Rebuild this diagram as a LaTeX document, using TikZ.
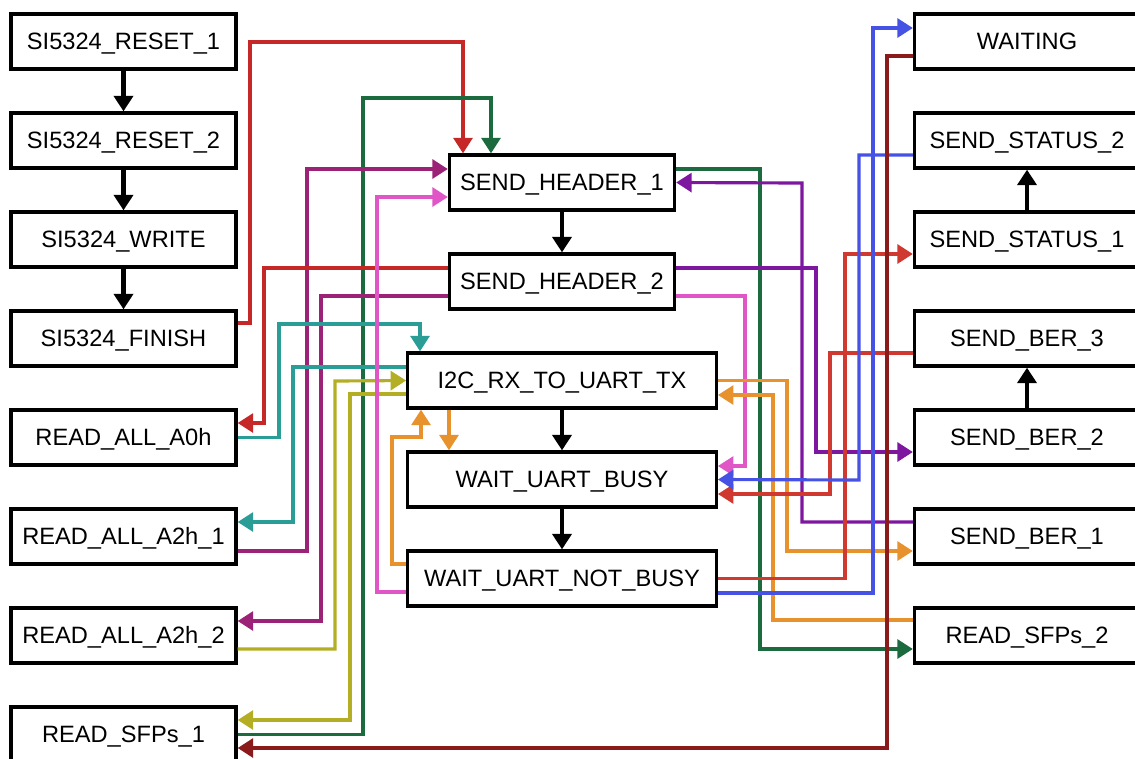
\documentclass[tikz,border=0pt]{standalone}
\usepackage{fontspec}
\setmainfont{Liberation Sans}
\usetikzlibrary{arrows.meta}
\definecolor{firered}{HTML}{C62828}
\definecolor{signalred}{HTML}{D0392F}
\definecolor{deepgreen}{HTML}{1B6B3E}
\definecolor{plum}{HTML}{9C2277}
\definecolor{seateal}{HTML}{2A9D96}
\definecolor{olivine}{HTML}{B3AE23}
\definecolor{orchid}{HTML}{E056C6}
\definecolor{amber}{HTML}{E8922E}
\definecolor{violet}{HTML}{7E17A0}
\definecolor{royal}{HTML}{4652E4}
\definecolor{maroon}{HTML}{8B1A1A}

\begin{document}
\begin{tikzpicture}[
    x=0.2mm, y=-0.2mm,
    font=\fontsize{13.45}{16}\selectfont,
    state/.style={draw, line width=1.9pt, minimum width=4.5cm, minimum height=1.1cm, inner sep=0pt,
        text height=9.6pt, text depth=0pt},
    widestate/.style={state, minimum width=6.17cm},
    flow/.style={line width=2.5pt, -{Triangle[width=0.38cm, length=0.31cm]}},
    link/.style={line width=1.8pt, -{Triangle[width=0.38cm, length=0.31cm]}}
]

% -------- frame (pixel units, y grows downwards) --------
\clip (0,0) rectangle (1135,758);

\def\XL{123.5}
\def\XC{562}
\def\XR{1027}

% ================================================================
% LEFT COLUMN: SI5324 SETUP AND SFP READS
% ================================================================
\node[state] (rst1) at (\XL,41.5)  {SI5324\_RESET\_1};
\node[state] (rst2) at (\XL,140.5) {SI5324\_RESET\_2};
\node[state] (wrt)  at (\XL,239.5) {SI5324\_WRITE};
\node[state] (fin)  at (\XL,338.5) {SI5324\_FINISH};
\node[state] (a0h)  at (\XL,437.5) {READ\_ALL\_A0h};
\node[state] (a2h1) at (\XL,536.5) {READ\_ALL\_A2h\_1};
\node[state] (a2h2) at (\XL,635.5) {READ\_ALL\_A2h\_2};
\node[state] (sfp1) at (\XL,734.5) {READ\_SFPs\_1};

% ================================================================
% MIDDLE COLUMN: UART TRANSMIT
% ================================================================
\node[state]     (sh1)  at (\XC,182.5) {SEND\_HEADER\_1};
\node[state]     (sh2)  at (\XC,281.5) {SEND\_HEADER\_2};
\node[widestate] (i2c)  at (\XC,380.5) {I2C\_RX\_TO\_UART\_TX};
\node[widestate] (wub)  at (\XC,479.5) {WAIT\_UART\_BUSY};
\node[widestate] (wunb) at (\XC,578.5) {WAIT\_UART\_NOT\_BUSY};

% ================================================================
% RIGHT COLUMN: STATUS AND BER
% ================================================================
\node[state] (wait)  at (\XR,41.5)  {WAITING};
\node[state] (stat2) at (\XR,140.5) {SEND\_STATUS\_2};
\node[state] (stat1) at (\XR,239.5) {SEND\_STATUS\_1};
\node[state] (ber3)  at (\XR,338.5) {SEND\_BER\_3};
\node[state] (ber2)  at (\XR,437.5) {SEND\_BER\_2};
\node[state] (ber1)  at (\XR,536.5) {SEND\_BER\_1};
\node[state] (sfp2)  at (\XR,635.5) {READ\_SFPs\_2};

% straight transitions
\draw[flow] (rst1) -- (rst2);
\draw[flow] (rst2) -- (wrt);
\draw[flow] (wrt) -- (fin);
\draw[flow] (sh1) -- (sh2);
\draw[flow] (i2c) -- (wub);
\draw[flow] (wub) -- (wunb);
\draw[flow] (stat1) -- (stat2);
\draw[flow] (ber2) -- (ber3);

% routed transitions, left side
\draw[link, firered]  (fin.east |- 0,323) -| (250,42) -| (sh1.north -| 463,0);
\draw[link, deepgreen] (sfp1.east) -| (363,98) -| (sh1.north -| 491,0);
\draw[link, plum]     (a2h1.east |- 0,551) -| (307,169) -- (sh1.west |- 0,169);
\draw[link, plum]     (sh2.west |- 0,296) -| (321,621) -- (a2h2.east |- 0,621);
\draw[link, firered]  (sh2.west |- 0,268) -| (264,423) -- (a0h.east |- 0,423);
\draw[link, seateal]  (a0h.east) -| (279,324) -| (i2c.north -| 420,0);
\draw[link, seateal]  (i2c.west |- 0,367) -| (293,522) -- (a2h1.east |- 0,522);
\draw[link, olivine]  (a2h2.east |- 0,649) -| (335,381) -- (i2c.west);
\draw[link, olivine]  (i2c.west |- 0,394) -| (350,720) -- (sfp1.east |- 0,720);
\draw[link, orchid]   (wunb.west |- 0,592) -| (377,197) -- (sh1.west |- 0,197);
\draw[link, amber]    (i2c.south -| 449,0) -- (wub.north -| 449,0);
\draw[link, amber]    (wunb.west |- 0,564) -| (392,437) -| (i2c.south -| 421,0);

% routed transitions, right side
\draw[link, orchid]    (sh2.east |- 0,296) -| (745,466) -- (wub.east |- 0,466);
\draw[link, deepgreen] (sh1.east |- 0,169) -| (760,649) -- (sfp2.west |- 0,649);
\draw[link, amber]     (sfp2.west |- 0,620) -| (773,395) -- (i2c.east |- 0,395);
\draw[link, amber]     (i2c.east) -| (787,551) -- (ber1.west |- 0,551);
\draw[link, violet]    (ber1.west |- 0,522) -| (802,183) -- (sh1.east);
\draw[link, violet]    (sh2.east |- 0,268) -| (816,452) -- (ber2.west |- 0,452);
\draw[link, signalred] (ber3.west |- 0,353) -| (830,494) -- (wub.east |- 0,494);
\draw[link, signalred] (wunb.east) -| (845,254) -- (stat1.west |- 0,254);
\draw[link, royal]     (stat2.west |- 0,155) -| (859,480) -- (wub.east);
\draw[link, royal]     (wunb.east |- 0,593) -| (873,28) -- (wait.west |- 0,28);
\draw[link, maroon]    (wait.west |- 0,56) -| (887,748) -- (sfp1.east |- 0,748);

\end{tikzpicture}
\end{document}
